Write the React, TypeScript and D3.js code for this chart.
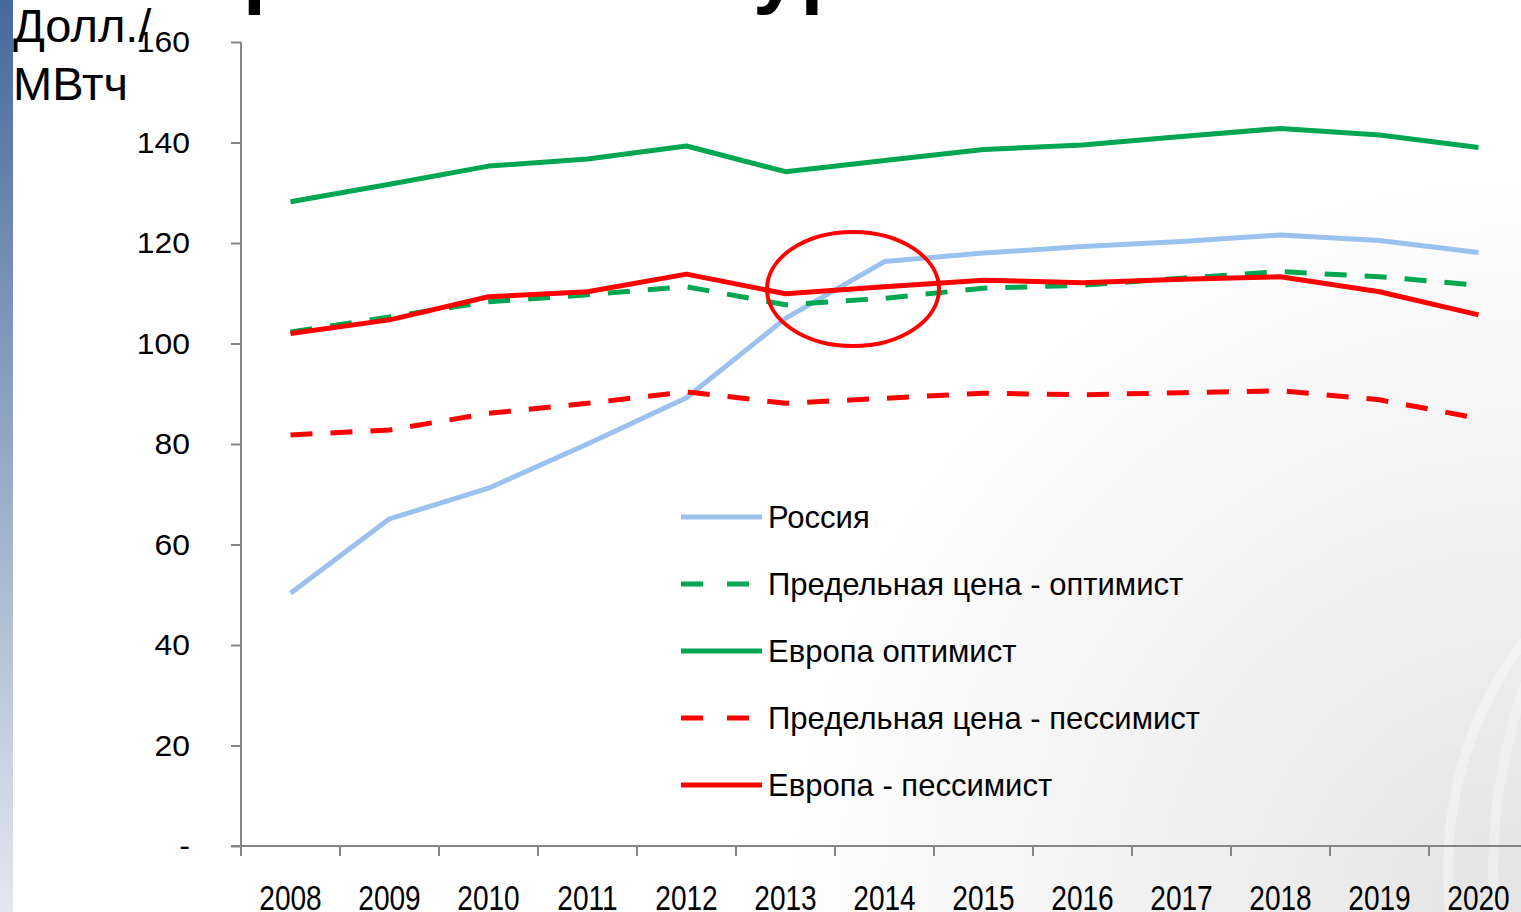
import React, { useEffect, useRef } from 'react';
import * as d3 from 'd3';

const years = ['2008', '2009', '2010', '2011', '2012', '2013', '2014', '2015', '2016', '2017', '2018', '2019', '2020'];

const russia = [50.3, 65.1, 71.2, 80.0, 89.2, 105.0, 116.3, 118.0, 119.3, 120.3, 121.6, 120.5, 118.1];
const limitOptimist = [102.3, 105.3, 108.3, 109.7, 111.3, 107.7, 109.0, 111.0, 111.6, 113.0, 114.3, 113.3, 111.6];
const europeOptimist = [128.2, 131.7, 135.3, 136.7, 139.3, 134.2, 136.4, 138.6, 139.5, 141.2, 142.8, 141.5, 139.0];
const limitPessimist = [81.8, 82.8, 86.1, 88.1, 90.4, 88.1, 89.1, 90.1, 89.8, 90.2, 90.6, 88.8, 85.1];
const europePessimist = [102.0, 104.7, 109.3, 110.3, 113.8, 109.9, 111.3, 112.6, 112.1, 112.8, 113.3, 110.3, 105.7];

const yTicks = [0, 20, 40, 60, 80, 100, 120, 140, 160];

const seriesNames = [
  'Россия',
  'Предельная цена - оптимист',
  'Европа оптимист',
  'Предельная цена - пессимист',
  'Европа - пессимист',
];

const App: React.FC = () => {
  const svgRef = useRef<SVGSVGElement>(null);

  useEffect(() => {
    if (!svgRef.current) return;
    const W = 1521, H = 912;
    const svg = d3.select(svgRef.current);
    svg.selectAll('*').remove();

    const defs = svg.append('defs');
    const side = defs.append('linearGradient').attr('id', 'side').attr('x1', 0).attr('y1', 0).attr('x2', 0).attr('y2', 1);
    side.append('stop').attr('offset', '0%').attr('stop-color', '#47699a');
    side.append('stop').attr('offset', '100%').attr('stop-color', '#e3e8f0');
    const bg = defs.append('radialGradient').attr('id', 'bg')
      .attr('gradientUnits', 'userSpaceOnUse').attr('cx', W).attr('cy', H).attr('r', 760);
    bg.append('stop').attr('offset', '0%').attr('stop-color', '#e4e4e4');
    bg.append('stop').attr('offset', '100%').attr('stop-color', '#ffffff');

    svg.append('rect').attr('width', W).attr('height', H).attr('fill', 'url(#bg)');
    // faint swooshes bottom-right
    [[1450, 0.35], [1495, 0.3]].forEach(([x0, o]) => {
      svg.append('path')
        .attr('d', `M${x0},${H} C${x0 - 10},800 ${x0 + 20},690 ${W + 40},600`)
        .attr('fill', 'none').attr('stroke', '#ffffff').attr('stroke-width', 10).attr('opacity', o);
    });
    svg.append('rect').attr('x', 0).attr('y', 0).attr('width', 13).attr('height', H).attr('fill', 'url(#side)');

    // cut-off slide title (only descenders are visible)
    svg.append('text')
      .attr('x', 181).attr('y', -2)
      .attr('font-family', 'Liberation Sans, Arial, sans-serif')
      .attr('font-weight', 'bold').attr('font-size', 82)
      .attr('letter-spacing', 3)
      .attr('fill', '#000')
      .text('Прогноз конкурентоспособности');

    const x = d3.scaleBand().domain(years).range([241, 241 + 13 * 99]);
    const y = d3.scaleLinear().domain([0, 160]).range([846, 42]);
    const cx = (d: string) => (x(d) as number) + x.bandwidth() / 2;

    const axisColor = '#868686';

    // y axis
    const yAxis = svg.append('g').attr('transform', 'translate(241,0)')
      .call(d3.axisLeft(y).tickValues(yTicks).tickSize(10).tickFormat(() => ''));
    yAxis.select('.domain').remove();
    yAxis.selectAll('line').attr('stroke', axisColor).attr('stroke-width', 2);
    svg.append('line').attr('x1', 241).attr('x2', 241).attr('y1', y(160)).attr('y2', 856)
      .attr('stroke', axisColor).attr('stroke-width', 2);

    svg.append('g').selectAll('text').data(yTicks).enter().append('text')
      .attr('transform', d => `translate(190,${y(d) + 10}) scale(1.1,1)`)
      .attr('text-anchor', 'end')
      .attr('font-family', 'Liberation Sans, Arial, sans-serif')
      .attr('font-size', 29).attr('fill', '#000')
      .text(d => (d === 0 ? '-' : String(d)));

    // x axis
    const boundaries = years.map(d => x(d) as number).concat([241 + 13 * 99]);
    svg.append('line').attr('x1', 231).attr('x2', W).attr('y1', 846).attr('y2', 846)
      .attr('stroke', axisColor).attr('stroke-width', 2);
    svg.append('g').selectAll('line').data(boundaries).enter().append('line')
      .attr('x1', d => d).attr('x2', d => d).attr('y1', 846).attr('y2', 856)
      .attr('stroke', axisColor).attr('stroke-width', 2);
    svg.append('g').selectAll('text').data(years).enter().append('text')
      .attr('transform', d => `translate(${cx(d)},910) scale(0.78,1)`)
      .attr('text-anchor', 'middle')
      .attr('font-family', 'Liberation Sans, Arial, sans-serif')
      .attr('font-size', 36).attr('fill', '#000')
      .text(d => d);

    // y unit label
    const unit = svg.append('text')
      .attr('font-family', 'Liberation Sans, Arial, sans-serif')
      .attr('font-size', 47).attr('fill', '#000');
    unit.append('tspan').attr('x', 13).attr('y', 42).text('Долл./');
    unit.append('tspan').attr('x', 13).attr('y', 100).text('МВтч');

    const series = [
      { name: seriesNames[0], values: russia, color: '#9bc2ee', dash: null },
      { name: seriesNames[1], values: limitOptimist, color: '#00a650', dash: '22 18' },
      { name: seriesNames[2], values: europeOptimist, color: '#00a650', dash: null },
      { name: seriesNames[3], values: limitPessimist, color: '#ff0000', dash: '22 18' },
      { name: seriesNames[4], values: europePessimist, color: '#ff0000', dash: null },
    ];

    const line = d3.line<number>()
      .x((_, i) => cx(years[i]))
      .y(d => y(d));

    series.forEach(s => {
      svg.append('path')
        .datum(s.values)
        .attr('fill', 'none')
        .attr('stroke', s.color)
        .attr('stroke-width', 5)
        .attr('stroke-linejoin', 'round')
        .attr('stroke-dasharray', s.dash)
        .attr('d', line);
    });

    // highlight ellipse
    svg.append('ellipse')
      .attr('cx', 853).attr('cy', 289).attr('rx', 86).attr('ry', 57)
      .attr('fill', 'none').attr('stroke', '#ff0000').attr('stroke-width', 4);

    // legend
    const lg = svg.append('g');
    series.forEach((s, i) => {
      const ly = 517 + i * 67;
      lg.append('line')
        .attr('x1', 681).attr('x2', 762).attr('y1', ly).attr('y2', ly)
        .attr('stroke', s.color).attr('stroke-width', 5)
        .attr('stroke-dasharray', s.dash ? '22 24' : null);
      lg.append('text')
        .attr('transform', `translate(768,${ly + 11}) scale(0.97,1)`)
        .attr('font-family', 'Liberation Sans, Arial, sans-serif')
        .attr('font-size', 32).attr('fill', '#000')
        .text(s.name);
    });
  }, []);

  return (
    <svg ref={svgRef} width={1521} height={912}
      style={{ position: 'absolute', left: 0, top: 0, display: 'block' }} />
  );
};

export default App;
